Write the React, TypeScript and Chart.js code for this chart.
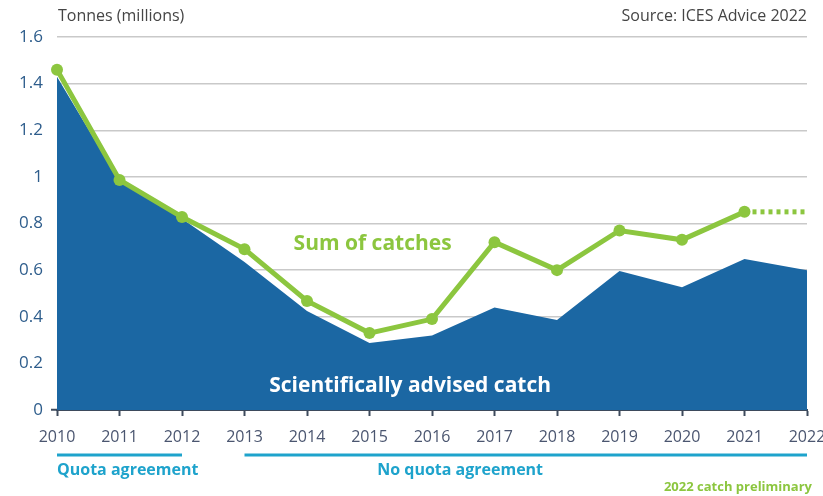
import React, { useEffect, useRef } from "react";
import { Chart, registerables } from "chart.js";

Chart.register(...registerables);

const years = ["2010", "2011", "2012", "2013", "2014", "2015", "2016", "2017", "2018", "2019", "2020", "2021", "2022"];
const advisedCatch = [1.43, 0.98, 0.82, 0.635, 0.425, 0.287, 0.32, 0.44, 0.386, 0.596, 0.527, 0.648, 0.6];
const sumOfCatches = [1.46, 0.987, 0.828, 0.69, 0.468, 0.33, 0.39, 0.72, 0.6, 0.77, 0.73, 0.85, null];
const preliminary = [null, null, null, null, null, null, null, null, null, null, null, 0.85, 0.85];
const yTicks = [0, 0.2, 0.4, 0.6, 0.8, 1, 1.2, 1.4, 1.6];

const BLUE = "#1b67a3";
const GREEN = "#8cc63f";
const CYAN = "#1ea3cc";
const FONT = "'Open Sans', 'Noto Sans', sans-serif";

const overlay = {
  id: "overlay",
  afterDraw(chart: any) {
    const ctx = chart.ctx;
    const xs = chart.scales.x;
    const ys = chart.scales.y;
    const a = chart.chartArea;
    ctx.save();
    // header texts
    ctx.font = `16px ${FONT}`;
    ctx.fillStyle = "#454545";
    ctx.textBaseline = "middle";
    ctx.textAlign = "left";
    ctx.fillText("Tonnes (millions)", a.left + 1, 16);
    ctx.textAlign = "right";
    ctx.fillText("Source: ICES Advice 2022", a.right, 16);

    // series labels
    ctx.textAlign = "center";
    ctx.font = `bold 21px ${FONT}`;
    ctx.fillStyle = GREEN;
    ctx.fillText("Sum of catches", xs.getPixelForValue(5.05), ys.getPixelForValue(0.71));
    ctx.fillStyle = "#ffffff";
    ctx.fillText("Scientifically advised catch", xs.getPixelForValue(5.65), ys.getPixelForValue(0.105));

    // quota bars
    const lineY = a.bottom + 45;
    ctx.strokeStyle = CYAN;
    ctx.lineWidth = 3;
    ctx.beginPath();
    ctx.moveTo(xs.getPixelForValue(0), lineY);
    ctx.lineTo(xs.getPixelForValue(2), lineY);
    ctx.moveTo(xs.getPixelForValue(3), lineY);
    ctx.lineTo(xs.getPixelForValue(12), lineY);
    ctx.stroke();
    ctx.fillStyle = CYAN;
    ctx.font = `bold 16px ${FONT}`;
    ctx.textAlign = "left";
    ctx.fillText("Quota agreement", xs.getPixelForValue(0), lineY + 15);
    ctx.textAlign = "center";
    ctx.fillText("No quota agreement", xs.getPixelForValue(6.45), lineY + 15);
    ctx.fillStyle = GREEN;
    ctx.font = `bold 13px ${FONT}`;
    ctx.textAlign = "right";
    ctx.fillText("2022 catch preliminary", a.right + 5, lineY + 32);
    ctx.restore();
  },
};

export default function App() {
  const ref = useRef<HTMLCanvasElement>(null);
  useEffect(() => {
    const chart = new Chart(ref.current as HTMLCanvasElement, {
      type: "line",
      data: {
        labels: years,
        datasets: [
          {
            label: "Sum of catches",
            data: sumOfCatches,
            borderColor: GREEN,
            backgroundColor: GREEN,
            borderWidth: 5,
            pointRadius: 6,
            pointHoverRadius: 6,
            pointBorderWidth: 0,
            tension: 0,
            fill: false,
            order: 0,
          },
          {
            label: "Preliminary",
            data: preliminary,
            borderColor: GREEN,
            borderWidth: 5,
            borderDash: [4, 4],
            pointRadius: 0,
            fill: false,
            order: 1,
          },
          {
            label: "Scientifically advised catch",
            data: advisedCatch,
            borderWidth: 0,
            borderColor: BLUE,
            backgroundColor: BLUE,
            pointRadius: 0,
            fill: "origin",
            tension: 0,
            order: 2,
          },
        ],
      },
      options: {
        responsive: false,
        animation: false,
        layout: { padding: { left: 0, right: 16, top: 37, bottom: 46 } },
        plugins: { legend: { display: false }, tooltip: { enabled: false } },
        scales: {
          x: {
            offset: false,
            grid: { drawOnChartArea: false, drawTicks: true, tickLength: 6, tickWidth: 2, tickColor: "#3d4a5c" },
            border: { display: true, color: "#3d4a5c", width: 2 },
            ticks: { color: "#4b5670", font: { family: FONT, size: 16 }, padding: 12, maxRotation: 0, autoSkip: false },
            afterFit: (s: any) => { s.height = 40; s.paddingRight = 0; s.paddingLeft = 0; },
          },
          y: {
            min: 0,
            max: 1.6,
            afterBuildTicks: (s: any) => { s.ticks = yTicks.map((v) => ({ value: v })); },
            grid: {
              color: (c: any) => (c.tick && c.tick.value === 0 ? "transparent" : "#c9c9c9"),
              lineWidth: 1.5,
              drawTicks: true,
              tickLength: 6,
              tickColor: (c: any) => (c.tick && c.tick.value === 0 ? "#3d4a5c" : "transparent"),
              tickWidth: 2,
            },
            border: { display: false },
            ticks: {
              color: "#2e5d8c",
              font: { family: FONT, size: 17 },
              padding: 8,
              callback: (v: any) => String(Number(Number(v).toFixed(1))),
            },
            afterFit: (s: any) => { s.width = 57; },
          },
        },
      },
      plugins: [overlay],
    });
    return () => chart.destroy();
  }, []);
  return (
    <div style={{ position: "absolute", left: 0, top: 0, width: 823, height: 496, background: "#fff" }}>
      <canvas ref={ref} width={823} height={496} />
    </div>
  );
}
